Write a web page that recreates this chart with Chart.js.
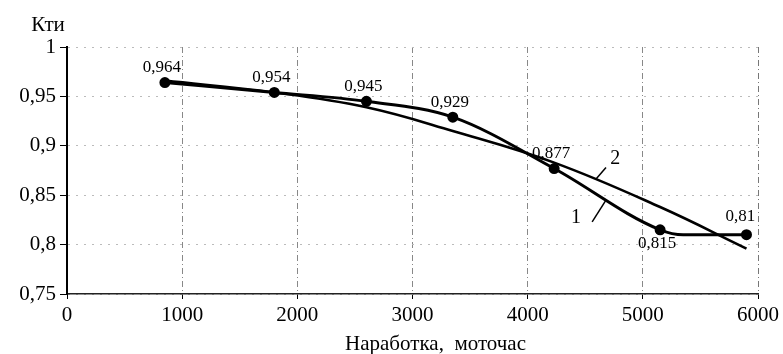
<!DOCTYPE html>
<html lang="ru">
<head>
    <meta charset="UTF-8">
    <title>Кти</title>
    <script src="https://cdn.jsdelivr.net/npm/chart.js"></script>
    <style>
        body { margin: 0; background: white; }
        #wrap { width: 783px; height: 354px; }
    </style>
</head>
<body>
<div id="wrap"><canvas id="chart" width="783" height="354"></canvas></div>
<script>
// наработка, моточас
const hours1 = [850, 1800, 2600, 3350, 4230, 5150, 5350, 5900];
const kti1 = [0.964, 0.954, 0.945, 0.929, 0.877, 0.815, 0.81, 0.81];
const marked1 = [true, true, true, true, true, true, false, true];

// линия 2 (тренд)
const hours2 = [850, 1800, 2600, 3350, 4230, 5150, 5900];
const kti2 = [0.966, 0.954, 0.939, 0.915, 0.883, 0.838, 0.796];

const xTicks = [0, 1000, 2000, 3000, 4000, 5000, 6000];
const yTicks = [0.75, 0.8, 0.85, 0.9, 0.95, 1];

const serif = "'Liberation Serif', 'Times New Roman', serif";

function fmt(v) {
    return String(+v.toFixed(3)).replace('.', ',');
}

// подписи значений и номера линий
const textPlugin = {
    id: 'texts',
    afterDatasetsDraw(chart) {
        const ctx = chart.ctx;
        const xs = chart.scales.x, ys = chart.scales.y;
        const area = chart.chartArea;
        ctx.save();
        ctx.fillStyle = '#000';
        ctx.textAlign = 'center';
        ctx.textBaseline = 'middle';
        ctx.font = '17px ' + serif;
        const pts = chart.getDatasetMeta(0).data;
        pts.forEach((p, i) => {
            if (!marked1[i]) return;
            let dy = -15, dx = -3;
            if (i === 5) dy = 14;
            if (i === 7) { dy = -18; dx = -6; }
            ctx.fillText(fmt(kti1[i]), p.x + dx, p.y + dy);
        });

        // номера кривых с выносками
        ctx.font = '20px ' + serif;
        ctx.lineWidth = 1.5;
        ctx.strokeStyle = '#000';
        const notes = [
            { t: '2', x: 4760, y: 0.887, a: [4590, 0.866], b: [4680, 0.878] },
            { t: '1', x: 4420, y: 0.827, a: [4560, 0.823], b: [4680, 0.845] }
        ];
        notes.forEach(n => {
            ctx.fillText(n.t, xs.getPixelForValue(n.x), ys.getPixelForValue(n.y));
            ctx.beginPath();
            ctx.moveTo(xs.getPixelForValue(n.a[0]), ys.getPixelForValue(n.a[1]));
            ctx.lineTo(xs.getPixelForValue(n.b[0]), ys.getPixelForValue(n.b[1]));
            ctx.stroke();
        });

        // подписи осей
        ctx.font = '21px ' + serif;
        ctx.fillText('Кти', area.left - 19, area.top - 22);
        ctx.fillText('Наработка,  моточас', (area.left + area.right) / 2 + 23, 344);
        ctx.restore();
    }
};

new Chart(document.getElementById('chart'), {
    type: 'line',
    data: {
        datasets: [
            {
                label: '1',
                data: hours1.map((h, i) => ({ x: h, y: kti1[i] })),
                borderColor: '#000',
                backgroundColor: '#000',
                borderWidth: 3,
                pointRadius: marked1.map(m => m ? 4 : 0),
                pointBackgroundColor: '#000',
                cubicInterpolationMode: 'monotone',
                fill: false
            },
            {
                label: '2',
                data: hours2.map((h, i) => ({ x: h, y: kti2[i] })),
                borderColor: '#000',
                borderWidth: 2.6,
                pointRadius: 0,
                tension: 0.4,
                fill: false
            }
        ]
    },
    options: {
        responsive: false,
        animation: false,
        layout: { padding: { left: 0, right: 24, top: 47, bottom: 0 } },
        plugins: {
            legend: { display: false },
            tooltip: { enabled: false }
        },
        scales: {
            x: {
                type: 'linear',
                min: 0,
                max: 6000,
                afterBuildTicks: s => { s.ticks = xTicks.map(v => ({ value: v })); },
                afterFit: s => { s.height = 60; },
                ticks: {
                    color: '#000',
                    font: { family: serif, size: 21 },
                    padding: 4,
                    maxRotation: 0,
                    callback: v => String(v)
                },
                grid: {
                    color: ctx => ctx.index === xTicks.length - 1 ? '#777' : '#888',
                    lineWidth: 1,
                    tickLength: 5,
                    tickColor: '#000',
                    tickBorderDash: []
                },
                border: { display: true, color: '#222', width: 1.5, dash: [6, 3, 1, 3] }
            },
            y: {
                min: 0.75,
                max: 1,
                afterBuildTicks: s => { s.ticks = yTicks.map(v => ({ value: v })); },
                afterFit: s => { s.width = 67; },
                ticks: {
                    color: '#000',
                    font: { family: serif, size: 21 },
                    padding: 4,
                    callback: v => fmt(v)
                },
                grid: {
                    color: '#bbb',
                    lineWidth: 1,
                    tickLength: 7,
                    tickColor: '#000',
                    tickBorderDash: []
                },
                border: { display: true, color: '#000', width: 2, dash: [2, 6] }
            }
        }
    },
    plugins: [textPlugin]
});
</script>
</body>
</html>
